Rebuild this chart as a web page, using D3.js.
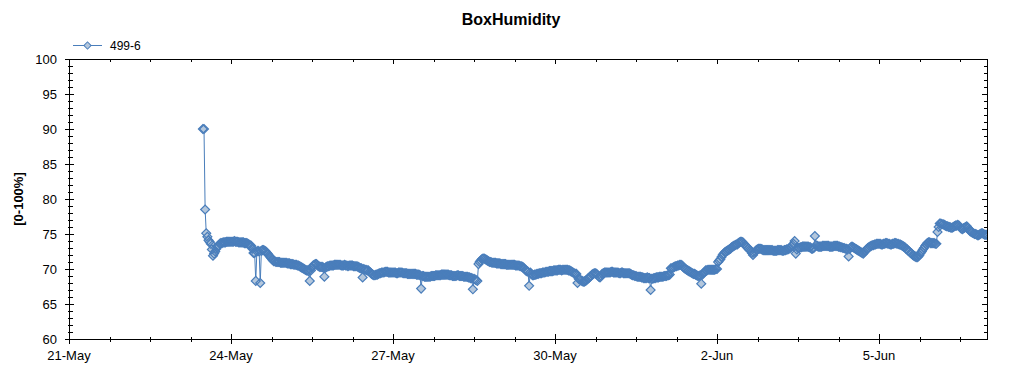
<!DOCTYPE html>
<html>
<head>
<meta charset="utf-8">
<script src="https://cdn.jsdelivr.net/npm/d3@7"></script>
<style>
  body { margin: 0; background: #fff; }
  svg { display: block; font-family: "Liberation Sans", Arial, sans-serif; }
  .tick-label { font-size: 13px; fill: #000; }
</style>
</head>
<body>
<script>
var chartTitle = "BoxHumidity";
var seriesName = "499-6";
var yLabel = "[0-100%]";

// readings every 30 minutes, first one at 23-May 11:30
var firstReading = "2016-05-23T11:30:00Z";
var stepMinutes = 30;

var may23 = [90.0, 90.0, 78.5, 75.1, 74.6, 74.1, 73.9, 73.6, 72.8, 71.9, 72.2, 72.5,
             72.9, 73.2, 73.4, 73.6, 73.7, 73.7, 73.8, 73.8, 73.8, 73.9, 73.9, 73.9,
             73.9];
var may24 = [73.9, 73.9, 73.9, 74.0, 73.9, 73.9, 73.9, 73.8, 73.8, 73.8, 73.8, 73.8,
             73.7, 73.7, 73.7, 73.6, 73.5, 73.4, 73.3, 72.9, 72.3, 72.3, 68.3, 72.5,
             72.6, 72.5, 68.0, 72.6, 72.7, 72.7, 72.6, 72.5, 72.3, 72.1, 71.9, 71.7,
             71.5, 71.3, 71.1, 71.1, 71.0, 71.0, 71.0, 71.0, 70.9, 70.9, 70.9, 70.9];
var may25 = [70.9, 70.9, 70.8, 70.8, 70.8, 70.7, 70.7, 70.7, 70.6, 70.6, 70.6, 70.5,
             70.5, 70.4, 70.3, 70.2, 70.1, 70.0, 69.9, 69.8, 69.8, 69.7, 68.3, 69.8,
             70.2, 70.5, 70.6, 70.7, 70.7, 70.5, 70.4, 70.3, 70.3, 70.3, 70.2, 68.9,
             70.2, 70.3, 70.4, 70.4, 70.5, 70.5, 70.5, 70.5, 70.6, 70.6, 70.6, 70.6];
var may26 = [70.6, 70.6, 70.5, 70.5, 70.5, 70.6, 70.5, 70.5, 70.4, 70.5, 70.5, 70.5,
             70.5, 70.4, 70.4, 70.4, 70.4, 70.3, 70.2, 70.1, 70.1, 68.8, 70.0, 69.9,
             69.9, 69.8, 69.8, 69.6, 69.5, 69.3, 69.2, 69.1, 69.1, 69.2, 69.2, 69.3,
             69.4, 69.4, 69.5, 69.5, 69.5, 69.6, 69.6, 69.6, 69.5, 69.5, 69.5, 69.5];
var may27 = [69.5, 69.5, 69.5, 69.4, 69.4, 69.5, 69.5, 69.5, 69.5, 69.4, 69.4, 69.4,
             69.4, 69.3, 69.3, 69.3, 69.3, 69.3, 69.3, 69.3, 69.3, 69.2, 69.2, 69.2,
             69.1, 67.2, 69.0, 69.0, 68.9, 68.9, 68.9, 68.9, 68.9, 68.9, 69.0, 69.0,
             69.0, 69.0, 69.1, 69.1, 69.1, 69.1, 69.1, 69.2, 69.2, 69.2, 69.2, 69.2];
var may28 = [69.2, 69.2, 69.1, 69.1, 69.1, 69.0, 69.0, 69.0, 69.0, 69.1, 69.1, 69.0,
             69.0, 69.0, 69.0, 68.9, 68.9, 68.9, 68.9, 68.8, 68.8, 68.7, 68.7, 67.1,
             68.6, 68.5, 68.4, 68.3, 70.7, 71.0, 71.2, 71.4, 71.5, 71.5, 71.4, 71.3,
             71.2, 71.1, 71.0, 71.0, 70.9, 70.9, 70.9, 70.9, 70.8, 70.8, 70.8, 70.8];
var may29 = [70.7, 70.7, 70.7, 70.7, 70.7, 70.6, 70.6, 70.6, 70.6, 70.6, 70.6, 70.6,
             70.6, 70.5, 70.5, 70.5, 70.5, 70.4, 70.4, 70.3, 70.2, 70.0, 69.8, 69.7,
             69.6, 67.6, 69.5, 69.3, 69.1, 69.1, 69.2, 69.2, 69.3, 69.3, 69.4, 69.4,
             69.4, 69.5, 69.5, 69.5, 69.6, 69.6, 69.6, 69.7, 69.7, 69.7, 69.7, 69.8];
var may30 = [69.8, 69.8, 69.8, 69.9, 69.9, 69.9, 69.8, 69.9, 69.9, 69.9, 69.9, 69.9,
             69.8, 69.8, 69.7, 69.6, 69.5, 69.4, 69.3, 69.3, 68.0, 68.6, 68.5, 68.4,
             68.3, 68.2, 68.2, 68.3, 68.4, 68.6, 68.7, 68.9, 69.0, 69.2, 69.3, 69.4,
             69.4, 69.3, 69.1, 68.9, 68.8, 69.0, 69.3, 69.4, 69.5, 69.5, 69.5, 69.5];
var may31 = [69.5, 69.5, 69.6, 69.6, 69.5, 69.5, 69.5, 69.5, 69.5, 69.4, 69.4, 69.5,
             69.5, 69.4, 69.4, 69.4, 69.4, 69.4, 69.4, 69.3, 69.2, 69.1, 69.1, 69.0,
             69.0, 68.9, 68.9, 68.9, 68.9, 68.8, 68.8, 68.7, 68.7, 68.7, 68.8, 68.7,
             68.7, 67.0, 68.6, 68.6, 68.7, 68.7, 68.8, 68.8, 68.8, 68.9, 68.9, 68.9];
var jun01 = [68.9, 69.0, 69.0, 69.0, 69.1, 69.1, 69.2, 70.1, 70.1, 70.2, 70.3, 70.4,
             70.4, 70.5, 70.5, 70.6, 70.6, 70.5, 70.3, 70.1, 70.0, 69.9, 69.8, 69.7,
             69.6, 69.5, 69.4, 69.3, 69.3, 69.2, 69.1, 69.0, 69.0, 69.1, 67.9, 69.2,
             69.4, 69.6, 69.8, 69.8, 69.9, 69.9, 69.9, 69.9, 69.9, 69.9, 69.9, 70.0];
var jun02 = [70.0, 71.0, 71.2, 71.4, 71.7, 72.0, 72.2, 72.4, 72.5, 72.6, 72.7, 72.8,
             72.9, 73.1, 73.2, 73.3, 73.4, 73.5, 73.5, 73.7, 73.8, 73.9, 73.9, 73.8,
             73.6, 73.4, 73.2, 73.1, 72.9, 72.7, 72.6, 72.3, 72.0, 72.3, 72.5, 72.7,
             72.8, 72.9, 72.9, 72.9, 72.8, 72.7, 72.7, 72.7, 72.7, 72.7, 72.7, 72.7];
var jun03 = [72.7, 72.7, 72.6, 72.6, 72.6, 72.6, 72.7, 72.7, 72.7, 72.7, 72.6, 72.6,
             72.7, 72.7, 72.8, 72.8, 72.9, 73.0, 73.2, 73.4, 73.6, 74.0, 72.2, 72.8,
             73.0, 73.0, 73.1, 73.1, 73.2, 73.2, 73.2, 73.2, 73.2, 73.2, 73.1, 73.1,
             72.9, 72.9, 73.0, 74.7, 73.4, 73.3, 73.2, 73.2, 73.2, 73.2, 73.3, 73.3];
var jun04 = [73.3, 73.3, 73.3, 73.3, 73.2, 73.2, 73.2, 73.2, 73.3, 73.3, 73.3, 73.3,
             73.2, 73.2, 73.1, 73.1, 73.0, 73.0, 72.9, 72.9, 72.8, 71.8, 72.9, 73.1,
             73.2, 73.1, 73.0, 72.9, 72.8, 72.7, 72.6, 72.5, 72.4, 72.3, 72.2, 72.4,
             72.6, 72.8, 73.0, 73.1, 73.2, 73.3, 73.4, 73.4, 73.5, 73.5, 73.6, 73.6];
var jun05 = [73.6, 73.6, 73.5, 73.5, 73.6, 73.6, 73.7, 73.7, 73.6, 73.6, 73.5, 73.5,
             73.6, 73.6, 73.7, 73.7, 73.6, 73.6, 73.5, 73.5, 73.4, 73.3, 73.2, 73.1,
             72.9, 72.8, 72.6, 72.5, 72.3, 72.2, 72.0, 71.9, 71.8, 71.7, 71.7, 71.8,
             72.0, 72.3, 72.5, 72.8, 73.0, 73.3, 73.5, 73.7, 73.8, 73.8, 73.7, 73.7];
var jun06 = [73.7, 73.7, 73.6, 73.6, 75.3, 76.0, 76.5, 76.5, 76.4, 76.4, 76.3, 76.2,
             76.1, 76.1, 76.0, 76.0, 75.9, 75.9, 76.0, 76.1, 76.2, 76.2, 76.3, 76.2,
             76.0, 75.8, 75.7, 75.8, 75.9, 76.0, 76.1, 75.9, 75.6, 75.4, 75.3, 75.2,
             75.1, 75.0, 75.0, 74.9, 74.8, 74.9, 75.0, 75.1, 75.1, 75.0, 74.9, 74.9,
             74.9];

var xStart = "2016-05-21T00:00:00Z", xEnd = "2016-06-07T00:00:00Z";
var yTicksMajor = [60, 65, 70, 75, 80, 85, 90, 95, 100];

var values = [].concat(may23, may24, may25, may26, may27, may28, may29, may30, may31,
                       jun01, jun02, jun03, jun04, jun05, jun06);
var t0 = new Date(firstReading);
var data = values.map(function(v, i) {
    return {t: d3.utcMinute.offset(t0, i * stepMinutes), v: v};
});

var width = 1024, height = 375;
var margin = {top: 59, right: 37, bottom: 36, left: 69};
var w = width - margin.left - margin.right, h = height - margin.top - margin.bottom;

var lineColor = "#4a7ebb", markFill = "#b4c7dc";

var svg = d3.select("body").append("svg")
    .attr("width", width)
    .attr("height", height);

var g = svg.append("g")
    .attr("transform", "translate(" + margin.left + "," + margin.top + ")");

var x = d3.scaleUtc()
    .domain([new Date(xStart), new Date(xEnd)])
    .range([0, w]);

var y = d3.scaleLinear()
    .domain([60, 100])
    .range([h, 0]);

// title + axis label
svg.append("text")
    .attr("x", 511).attr("y", 25)
    .attr("text-anchor", "middle")
    .style("font-size", "16px").style("font-weight", "bold")
    .text(chartTitle);

svg.append("text")
    .attr("transform", "translate(23," + (margin.top + h / 2) + ") rotate(-90)")
    .attr("text-anchor", "middle")
    .style("font-size", "13px").style("font-weight", "bold")
    .text(yLabel);

// legend
var diamond = d3.symbol().type(d3.symbolSquare);
var leg = svg.append("g").attr("transform", "translate(73,45.5)");
leg.append("line").attr("x1", 0).attr("x2", 29)
    .attr("stroke", lineColor).attr("stroke-width", 1);
leg.append("path").attr("d", diamond.size(26)())
    .attr("transform", "translate(14.5,0) rotate(45)")
    .attr("fill", markFill).attr("stroke", lineColor);
leg.append("text").attr("x", 37).attr("y", 4.5)
    .style("font-size", "12px")
    .text(seriesName);

// ticks: minor every 18h on x, every 1 on y
var xMinor = d3.range(0, 17 * 24 + 1, 18).map(function(hh) {
    return d3.utcHour.offset(new Date(xStart), hh);
});
var xMajor = xMinor.filter(function(d, i) { return i % 4 === 0; });
var yMinor = d3.range(60, 101, 1);
var fmt = d3.utcFormat("%-d-%b");

var axes = g.append("g")
    .attr("stroke", "#000").attr("stroke-width", 1)
    .attr("shape-rendering", "crispEdges");

axes.append("rect").attr("x", 0).attr("y", 0).attr("width", w).attr("height", h)
    .attr("fill", "none");

xMinor.forEach(function(d, i) {
    var major = i % 4 === 0;
    var px = Math.round(x(d)) + 0.5;
    axes.append("line").attr("x1", px).attr("x2", px)
        .attr("y1", h - (major ? 5 : 2)).attr("y2", h + (major ? 5 : 3));
    axes.append("line").attr("x1", px).attr("x2", px)
        .attr("y1", 0).attr("y2", major ? 5 : 3);
});

yMinor.forEach(function(d) {
    var major = d % 5 === 0;
    var py = Math.round(y(d)) + 0.5;
    axes.append("line").attr("y1", py).attr("y2", py)
        .attr("x1", major ? -4 : -1).attr("x2", major ? 5 : 4);
    axes.append("line").attr("y1", py).attr("y2", py)
        .attr("x1", w - (major ? 5 : 3)).attr("x2", w);
});

g.selectAll(".xlab").data(xMajor).enter().append("text")
    .attr("class", "tick-label")
    .attr("x", function(d) { return x(d); })
    .attr("y", h + 21)
    .attr("text-anchor", "middle")
    .text(fmt);

g.selectAll(".ylab").data(yTicksMajor).enter().append("text")
    .attr("class", "tick-label")
    .attr("x", -12)
    .attr("y", function(d) { return y(d) + 4.5; })
    .attr("text-anchor", "end")
    .text(function(d) { return d; });

// series: line, then marker fills, then marker outlines on top
svg.append("clipPath").attr("id", "plot-clip")
    .append("rect").attr("x", 0).attr("y", -10).attr("width", w).attr("height", h + 20);

var series = g.append("g")
    .attr("clip-path", "url(#plot-clip)");

series.append("path")
    .datum(data)
    .attr("fill", "none")
    .attr("stroke", lineColor)
    .attr("stroke-width", 1)
    .attr("d", d3.line()
        .x(function(d) { return x(d.t); })
        .y(function(d) { return y(d.v); }));

function markPos(d) {
    return "translate(" + x(d.t) + "," + y(d.v) + ") rotate(45)";
}

series.selectAll(".mark-fill").data(data).enter().append("path")
    .attr("class", "mark-fill")
    .attr("d", diamond.size(40)())
    .attr("transform", markPos)
    .attr("fill", markFill);

series.selectAll(".mark-edge").data(data).enter().append("path")
    .attr("class", "mark-edge")
    .attr("d", diamond.size(40)())
    .attr("transform", markPos)
    .attr("fill", "none")
    .attr("stroke", lineColor)
    .attr("stroke-width", 1.2);
</script>
</body>
</html>
